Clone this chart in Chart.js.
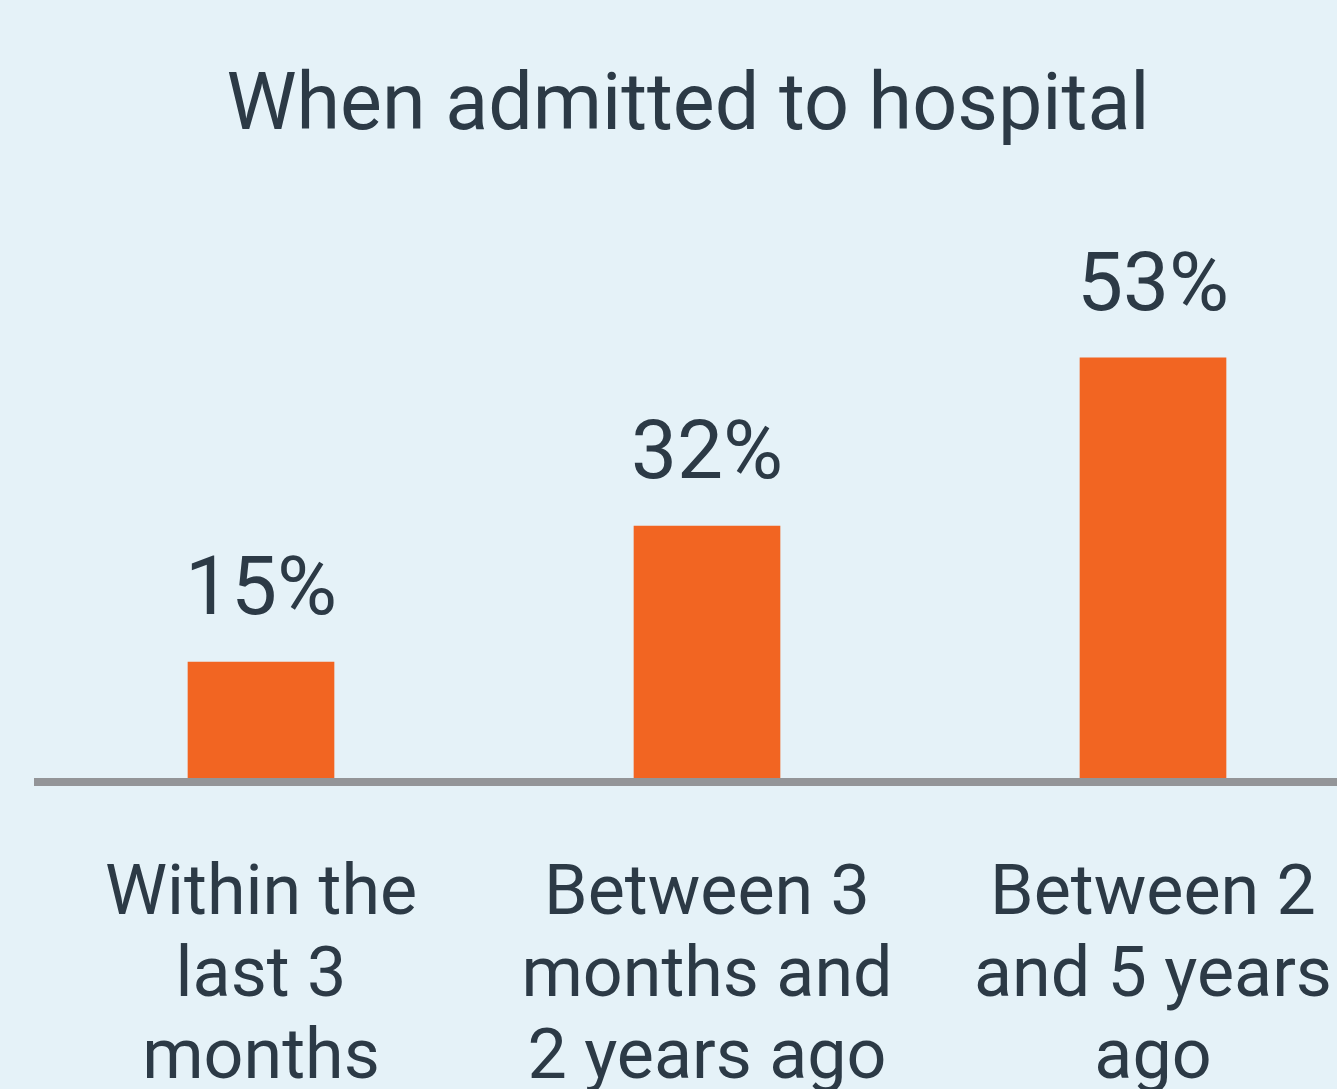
<!DOCTYPE html>
<html lang="en">
<head>
    <meta charset="UTF-8">
    <title>When admitted to hospital</title>
    <script src="https://cdn.jsdelivr.net/npm/chart.js"></script>
    <style>
        html, body { margin: 0; padding: 0; overflow: hidden; background: #e5f2f8; }
        #wrap { width: 1337px; height: 1089px; overflow: hidden; }
    </style>
</head>
<body>
    <div id="wrap">
        <canvas id="admitChart" width="1380" height="1101"></canvas>
    </div>

    <script>
        // Chart data
        const categories = [
            ['Within the', 'last 3', 'months'],
            ['Between 3', 'months and', '2 years ago'],
            ['Between 2', 'and 5 years', 'ago']
        ];
        const percentages = [15, 32, 53];

        const textColor = '#2c3a46';
        const fontFamily = 'Roboto, "Open Sans", sans-serif';

        // Draw the value above each bar
        const valueLabels = {
            id: 'valueLabels',
            afterDatasetsDraw(chart) {
                const ctx = chart.ctx;
                const meta = chart.getDatasetMeta(0);
                ctx.save();
                ctx.font = '82px ' + fontFamily;
                ctx.fillStyle = textColor;
                ctx.textAlign = 'center';
                ctx.textBaseline = 'alphabetic';
                meta.data.forEach(function(bar, i) {
                    ctx.fillText(percentages[i] + '%', bar.x, bar.y - 48);
                });
                ctx.restore();
            }
        };

        new Chart(document.getElementById('admitChart'), {
            type: 'bar',
            data: {
                labels: categories,
                datasets: [{
                    data: percentages,
                    backgroundColor: '#f26522',
                    borderWidth: 0,
                    barThickness: 146
                }]
            },
            options: {
                responsive: false,
                animation: false,
                devicePixelRatio: 1,
                layout: {
                    padding: { left: 0, right: 4, top: 0, bottom: 0 }
                },
                plugins: {
                    legend: { display: false },
                    tooltip: { enabled: false },
                    title: {
                        display: true,
                        text: 'When admitted to hospital',
                        color: textColor,
                        font: { family: fontFamily, size: 79, weight: 'normal', lineHeight: 1.2 },
                        padding: { top: 62, bottom: 105 }
                    }
                },
                scales: {
                    x: {
                        grid: {
                            display: true,
                            drawOnChartArea: false,
                            drawTicks: true,
                            tickLength: 73,
                            color: 'rgba(0,0,0,0)',
                            tickColor: 'rgba(0,0,0,0)'
                        },
                        border: { display: true, color: '#939598', width: 8, z: 1 },
                        ticks: {
                            color: textColor,
                            padding: 0,
                            maxRotation: 0,
                            autoSkip: false,
                            font: { family: fontFamily, size: 70, lineHeight: 1.17 }
                        }
                    },
                    y: {
                        display: true,
                        min: 0,
                        max: 65,
                        grid: { display: false },
                        border: { display: false },
                        ticks: { display: false },
                        afterFit: function(scale) { scale.width = 38; }
                    }
                }
            },
            plugins: [valueLabels]
        });
    </script>
</body>
</html>
